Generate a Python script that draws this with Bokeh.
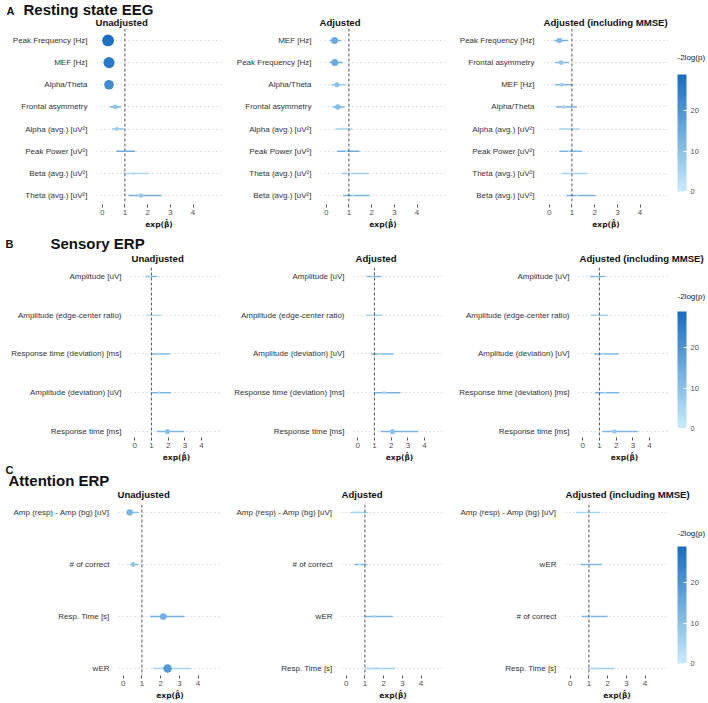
import numpy as np
from bokeh.plotting import figure
from bokeh.models import (ColumnDataSource, Range1d, FixedTicker, Span, Label,
                          ColorBar, LinearColorMapper)
from bokeh.layouts import row, column
from bokeh.transform import linear_cmap
from bokeh.embed import file_html
from bokeh.resources import INLINE

# ---------------- data (exp(beta), 95% CI, -2log(p)) ----------------
# A: Resting state EEG
A1_labels = ["Peak Frequency [Hz]", "MEF [Hz]", "Alpha/Theta", "Frontal asymmetry",
             "Alpha (avg.) [uV²]", "Peak Power [uV²]", "Beta (avg.) [uV²]", "Theta (avg.) [uV²]"]
A1_est = [0.26, 0.30, 0.30, 0.57, 0.65, 1.00, 1.38, 1.71]
A1_lo = [0.18, 0.22, 0.21, 0.35, 0.45, 0.62, 0.94, 1.16]
A1_hi = [0.36, 0.40, 0.42, 0.83, 0.95, 1.45, 2.03, 2.60]
A1_nlp = [28, 26, 22, 9, 7, 0.5, 3, 8]
A1_ci_nlp = [28, 26, 22, 14, 10, 15, 5, 14]

A2_labels = ["MEF [Hz]", "Peak Frequency [Hz]", "Alpha/Theta", "Frontal asymmetry",
             "Alpha (avg.) [uV²]", "Peak Power [uV²]", "Theta (avg.) [uV²]", "Beta (avg.) [uV²]"]
A2_est = [0.37, 0.38, 0.47, 0.51, 0.69, 0.88, 1.10, 1.20]
A2_lo = [0.16, 0.16, 0.22, 0.29, 0.40, 0.49, 0.70, 0.74]
A2_hi = [0.66, 0.73, 0.88, 0.81, 1.13, 1.47, 1.88, 1.91]
A2_nlp = [15, 15, 10, 11, 4, 1.5, 1, 2]
A2_ci_nlp = [15, 15, 8, 14, 6, 14, 7, 13]

A3_labels = ["Peak Frequency [Hz]", "Frontal asymmetry", "MEF [Hz]", "Alpha/Theta",
             "Alpha (avg.) [uV²]", "Peak Power [uV²]", "Theta (avg.) [uV²]", "Beta (avg.) [uV²]"]
A3_est = [0.45, 0.52, 0.55, 0.63, 0.75, 0.85, 0.97, 1.22]
A3_lo = [0.22, 0.25, 0.25, 0.30, 0.43, 0.45, 0.55, 0.75]
A3_hi = [0.82, 0.88, 1.03, 1.22, 1.33, 1.45, 1.67, 2.04]
A3_nlp = [11, 9, 7, 6, 3, 1, 0.5, 1.5]
A3_ci_nlp = [14, 12, 12, 13, 6, 13, 6, 13]

# B: Sensory ERP
B1_labels = ["Amplitude [uV]", "Amplitude (edge-center ratio)", "Response time (deviation) [ms]",
             "Amplitude (deviation) [uV]", "Response time [ms]"]
B1_est = [0.90, 1.00, 1.40, 1.46, 1.96]
B1_lo = [0.66, 0.70, 1.00, 1.00, 1.34]
B1_hi = [1.34, 1.60, 2.10, 2.16, 2.96]
B1_nlp = [1, 0.5, 4, 4, 10]
B1_ci_nlp = [12, 4, 12, 13, 12]

B2_labels = ["Amplitude [uV]", "Amplitude (edge-center ratio)", "Amplitude (deviation) [uV]",
             "Response time (deviation) [ms]", "Response time [ms]"]
B2_est = [0.90, 0.86, 1.30, 1.57, 2.08]
B2_lo = [0.55, 0.50, 0.80, 1.00, 1.37]
B2_hi = [1.40, 1.47, 2.14, 2.55, 3.60]
B2_nlp = [1, 0.5, 2.5, 5, 10]
B2_ci_nlp = [12, 6, 12, 13, 13]

B3_labels = ["Amplitude [uV]", "Amplitude (edge-center ratio)", "Amplitude (deviation) [uV]",
             "Response time (deviation) [ms]", "Response time [ms]"]
B3_est = [0.75, 0.85, 1.20, 1.31, 1.90]
B3_lo = [0.44, 0.48, 0.69, 0.73, 1.17]
B3_hi = [1.35, 1.52, 2.15, 2.19, 3.30]
B3_nlp = [1.5, 0.5, 2, 2.5, 8]
B3_ci_nlp = [12, 6, 12, 12, 12]

# C: Attention ERP
C1_labels = ["Amp (resp) - Amp (bg) [uV]", "# of correct", "Resp. Time [s]", "wER"]
C1_est = [0.35, 0.53, 2.14, 2.37]
C1_lo = [0.16, 0.39, 1.44, 1.61]
C1_hi = [0.82, 0.79, 3.28, 3.63]
C1_nlp = [13, 9, 14, 19]
C1_ci_nlp = [10, 12, 14, 6]

C2_labels = ["Amp (resp) - Amp (bg) [uV]", "# of correct", "wER", "Resp. Time [s]"]
C2_est = [0.63, 0.72, 1.53, 1.60]
C2_lo = [0.25, 0.46, 1.00, 1.04]
C2_hi = [1.18, 1.12, 2.49, 2.61]
C2_nlp = [3, 3, 4, 4]
C2_ci_nlp = [6, 13, 12, 7]

C3_labels = ["Amp (resp) - Amp (bg) [uV]", "wER", "# of correct", "Resp. Time [s]"]
C3_est = [0.89, 0.98, 1.07, 1.43]
C3_lo = [0.32, 0.54, 0.63, 0.95]
C3_hi = [1.60, 1.70, 2.00, 2.36]
C3_nlp = [0.5, 0.5, 1, 3]
C3_ci_nlp = [6, 12, 12, 7]

x_ticks = [0, 1, 2, 3, 4]
cbar_ticks = [0, 10, 20]
subtitles = ["Unadjusted", "Adjusted", "Adjusted (including MMSE)"]
headers = [("A", "Resting state EEG"), ("B", "Sensory ERP"), ("C", "Attention ERP")]
cbar_title = "-2log(p)"

# ---------------- styling ----------------
FONT = "Liberation Sans"
NLP_MAX = 29
TOTAL_W = 707
COL_W = [228, 227, 216, 36]
BOTTOM_NEED = 26
CB_EXTRA = 145  # colour-bar box height (bar + internal space)
SUB_FS = "9.6px"


def make_palette(c0, c1, n=256):
    a = np.array([int(c0[i:i + 2], 16) for i in (1, 3, 5)], float)
    b = np.array([int(c1[i:i + 2], 16) for i in (1, 3, 5)], float)
    return ["#%02x%02x%02x" % tuple(int(round(v)) for v in a + (b - a) * t)
            for t in np.linspace(0, 1, n)]


PALETTE = make_palette("#c9edfc", "#1a6cc0")


def blank(width, height):
    p = figure(width=width, height=height, output_backend="svg", toolbar_location=None,
               x_range=Range1d(0, width), y_range=Range1d(height, 0),
               x_axis_location=None, y_axis_location=None,
               min_border_left=0, min_border_right=0, min_border_top=0, min_border_bottom=0)
    p.outline_line_color = None
    p.xgrid.visible = False
    p.ygrid.visible = False
    return p


def add_text(p, txt, x, y, size, bold=True, color="#111111"):
    p.add_layout(Label(x=x, y=y, text=txt, text_font=FONT, text_font_size=size,
                       text_font_style="bold" if bold else "normal", text_color=color,
                       text_baseline="middle", text_align="left"))


def strip(height, items):
    p = blank(TOTAL_W, height)
    for txt, x, y, size in items:
        add_text(p, txt, x, y, size)
    return p


def cbar_fig(height, bar_top, title_y):
    p = blank(COL_W[3], height)
    mapper = LinearColorMapper(palette=PALETTE, low=0, high=NLP_MAX)
    cb = ColorBar(color_mapper=mapper, location=(6, height - bar_top - CB_EXTRA),
                  width=9, height=117,
                  padding=0, margin=0, title=None,
                  ticker=FixedTicker(ticks=cbar_ticks),
                  major_label_text_font=FONT, major_label_text_font_size="7.5px",
                  major_label_text_color="#4d4d4d", label_standoff=4,
                  major_tick_line_color="white", major_tick_in=3, major_tick_out=0,
                  bar_line_color=None, border_line_color=None,
                  background_fill_color=None)
    p.add_layout(cb, "center")
    add_text(p, cbar_title, 6, title_y, "8px", bold=False, color="#1a1a1a")
    return p


def panel(labels, est, lo, hi, nlp, ci_nlp, *, width, height, left, pad_top, pad_bot, frame_w):
    n = len(labels)
    fh = height - BOTTOM_NEED
    step = (fh - pad_top - pad_bot) / (n - 1)
    p = figure(width=width, height=height, output_backend="svg", toolbar_location=None,
               x_range=Range1d(-0.25, 5.25),
               y_range=Range1d(n - 1 + pad_bot / step, -pad_top / step),
               min_border_left=left, min_border_right=width - left - frame_w,
               min_border_top=0, min_border_bottom=24)
    p.outline_line_color = None
    src = ColumnDataSource(dict(y=list(range(n)), est=est, lo=lo, hi=hi, nlp=nlp,
                                ci_nlp=ci_nlp, size=[1.5 + 0.37 * v for v in nlp]))
    p.xgrid.visible = False
    p.ygrid.ticker = FixedTicker(ticks=list(range(n)))
    p.ygrid.grid_line_color = "#c4c4c4"
    p.ygrid.grid_line_dash = "1 3"
    p.ygrid.grid_line_width = 1
    p.add_layout(Span(location=1, dimension="height", line_color="#555555",
                      line_dash="3 2", line_width=1))
    p.segment(x0="lo", y0="y", x1="hi", y1="y", source=src, line_width=1.5,
              line_color=linear_cmap("ci_nlp", PALETTE, 0, NLP_MAX))
    p.scatter(x="est", y="y", size="size", source=src, line_color=None,
              fill_color=linear_cmap("nlp", PALETTE, 0, NLP_MAX))

    xa = p.xaxis[0]
    xa.ticker = FixedTicker(ticks=x_ticks)
    xa.axis_line_color = None
    xa.major_tick_line_color = "#555555"
    xa.major_tick_out = 3
    xa.major_tick_in = 0
    xa.minor_tick_line_color = None
    xa.major_label_text_font = FONT
    xa.major_label_text_font_size = "8px"
    xa.major_label_text_color = "#4d4d4d"
    xa.major_label_standoff = 2
    xa.axis_label = "exp(\u03b2\u0302)"
    xa.axis_label_text_font = "DejaVu Sans"
    xa.axis_label_text_font_size = "7.5px"
    xa.axis_label_text_font_style = "bold"
    xa.axis_label_text_color = "#1a1a1a"
    xa.axis_label_standoff = 2

    ya = p.yaxis[0]
    ya.ticker = FixedTicker(ticks=list(range(n)))
    ya.major_label_overrides = {i: lab for i, lab in enumerate(labels)}
    ya.axis_line_color = None
    ya.major_tick_line_color = None
    ya.minor_tick_line_color = None
    ya.major_label_text_font = FONT
    ya.major_label_text_font_size = "8px"
    ya.major_label_text_color = "#333333"
    ya.major_label_standoff = 3
    return p


# ---------------- Row A ----------------
SA, HA = 28, 203
stripA = strip(SA, [(headers[0][0], 6, 10, "11px"), (headers[0][1], 23, 9, "15px"),
                    (subtitles[0], 95, 22, SUB_FS), (subtitles[1], 319, 22, SUB_FS),
                    (subtitles[2], 543, 22, SUB_FS)])
a1 = panel(A1_labels, A1_est, A1_lo, A1_hi, A1_nlp, A1_ci_nlp, width=COL_W[0], height=HA,
           left=96, pad_top=12, pad_bot=9, frame_w=125)
a2 = panel(A2_labels, A2_est, A2_lo, A2_hi, A2_nlp, A2_ci_nlp, width=COL_W[1], height=HA,
           left=92, pad_top=12, pad_bot=9, frame_w=125)
a3 = panel(A3_labels, A3_est, A3_lo, A3_hi, A3_nlp, A3_ci_nlp, width=COL_W[2], height=HA,
           left=88, pad_top=12, pad_bot=9, frame_w=125)
cbA = cbar_fig(HA, 73 - SA, 34)

# ---------------- Row B ----------------
SB, HB = 36, 197
stripB = strip(SB, [(headers[1][0], 5, 12, "11px"), (headers[1][1], 50, 12, "15px"),
                    (subtitles[0], 131, 27, SUB_FS), (subtitles[1], 355, 27, SUB_FS),
                    (subtitles[2], 579, 27, SUB_FS)])
b1 = panel(B1_labels, B1_est, B1_lo, B1_hi, B1_nlp, B1_ci_nlp, width=COL_W[0], height=HB,
           left=130, pad_top=9, pad_bot=6, frame_w=92)
b2 = panel(B2_labels, B2_est, B2_lo, B2_hi, B2_nlp, B2_ci_nlp, width=COL_W[1], height=HB,
           left=125, pad_top=9, pad_bot=6, frame_w=92)
b3 = panel(B3_labels, B3_est, B3_lo, B3_hi, B3_nlp, B3_ci_nlp, width=COL_W[2], height=HB,
           left=123, pad_top=9, pad_bot=6, frame_w=92)
cbB = cbar_fig(HB, 310 - 267, 34)

# ---------------- Row C ----------------
SC, HC = 40, 198
stripC = strip(SC, [(headers[2][0], 5, 5, "11px"), (headers[2][1], 8, 16, "15px"),
                    (subtitles[0], 117, 30, SUB_FS), (subtitles[1], 341, 30, SUB_FS),
                    (subtitles[2], 565, 30, SUB_FS)])
c1 = panel(C1_labels, C1_est, C1_lo, C1_hi, C1_nlp, C1_ci_nlp, width=COL_W[0], height=HC,
           left=118, pad_top=8, pad_bot=7, frame_w=103)
c2 = panel(C2_labels, C2_est, C2_lo, C2_hi, C2_nlp, C2_ci_nlp, width=COL_W[1], height=HC,
           left=113, pad_top=8, pad_bot=7, frame_w=103)
c3 = panel(C3_labels, C3_est, C3_lo, C3_hi, C3_nlp, C3_ci_nlp, width=COL_W[2], height=HC,
           left=110, pad_top=8, pad_bot=7, frame_w=103)
cbC = cbar_fig(HC, 545 - 504, 33)

layout = column(stripA, row(a1, a2, a3, cbA),
                stripB, row(b1, b2, b3, cbB),
                stripC, row(c1, c2, c3, cbC))
open("out.html", "w").write(file_html(layout, INLINE))
